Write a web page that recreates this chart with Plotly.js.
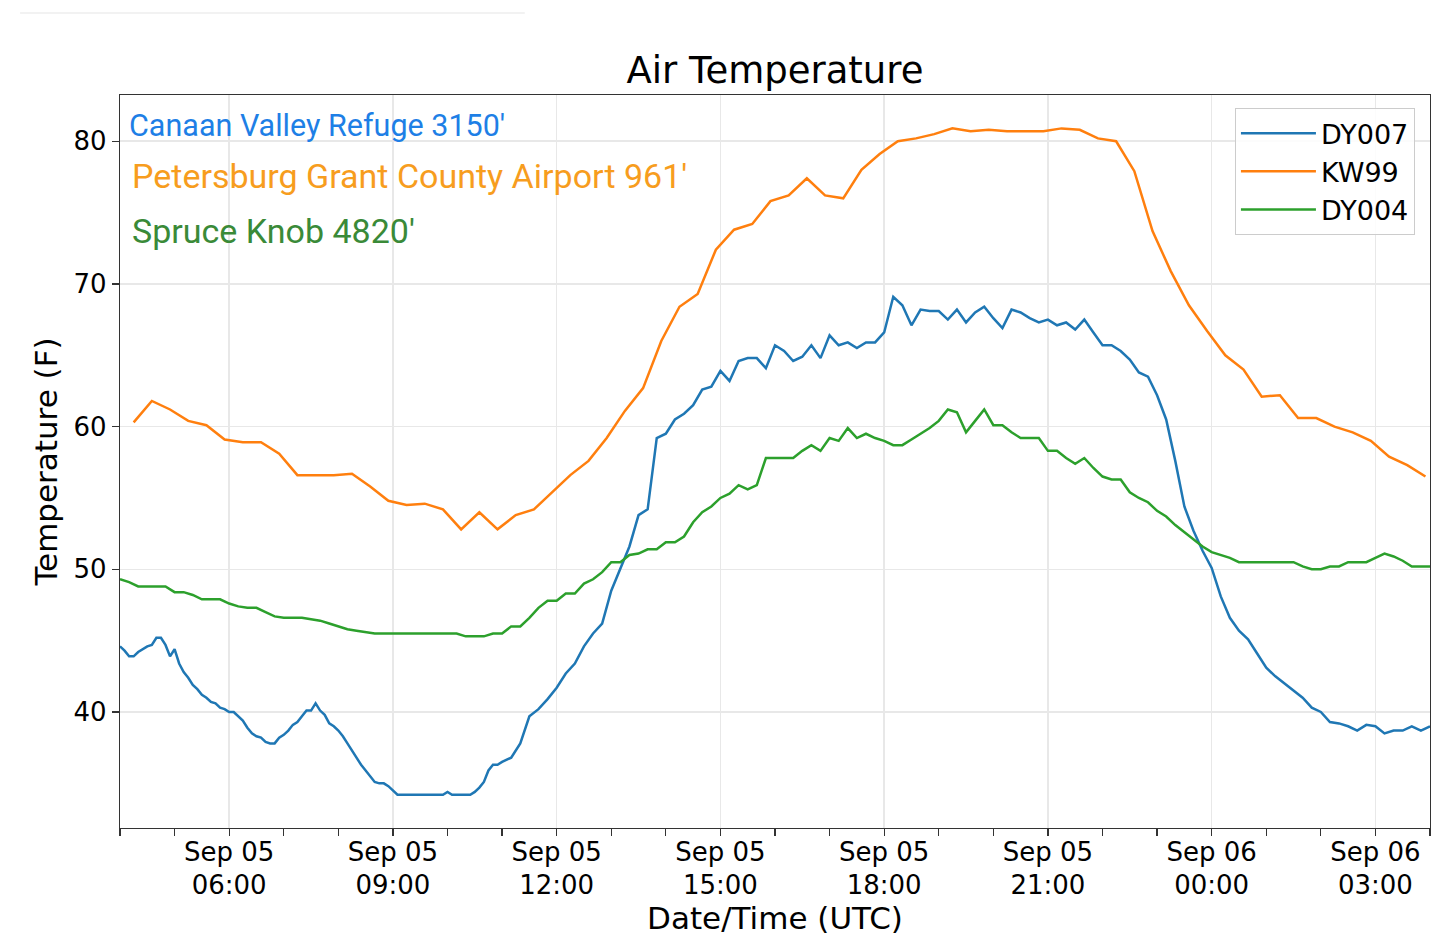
<!DOCTYPE html>
<html>
<head>
<meta charset="utf-8">
<script src="https://cdn.plot.ly/plotly-3.0.1.min.js"></script>
<style>
  html, body { margin: 0; padding: 0; background: #ffffff; }
  #chart { width: 1440px; height: 950px; }
</style>
</head>
<body>
<div id="chart"></div>
<script>
// ---------------- DATA ----------------
// DY007 - Canaan Valley Refuge: 5-minute readings 04:00-10:55, then 10-minute readings 11:00-04:00 (+1 day)
const dy007EarlyStart = '2019-09-05 04:00';
const dy007EarlyStepMin = 5;
const dy007Early = [
  44.6, 44.3, 43.9, 43.9, 44.2, 44.4, 44.6, 44.7, 45.2, 45.2, 44.7, 43.9,
  44.4, 43.4, 42.8, 42.4, 41.9, 41.6, 41.2, 41.0, 40.7, 40.6, 40.3, 40.2,
  40.0, 40.0, 39.7, 39.4, 38.9, 38.5, 38.3, 38.2, 37.9, 37.8, 37.8, 38.2,
  38.4, 38.7, 39.1, 39.3, 39.7, 40.1, 40.1, 40.6, 40.1, 39.8, 39.2, 39.0,
  38.7, 38.3, 37.8, 37.3, 36.8, 36.3, 35.9, 35.5, 35.1, 35.0, 35.0, 34.8,
  34.5, 34.2, 34.2, 34.2, 34.2, 34.2, 34.2, 34.2, 34.2, 34.2, 34.2, 34.2,
  34.4, 34.2, 34.2, 34.2, 34.2, 34.2, 34.4, 34.7, 35.1, 35.9, 36.3, 36.3
];
const dy007LateStart = '2019-09-05 11:00';
const dy007LateStepMin = 10;
const dy007Late = [
  36.5, 36.8, 37.8, 39.7, 40.2, 40.9,
  41.7, 42.7, 43.4, 44.6, 45.5, 46.2,
  48.5, 50.0, 51.6, 53.8, 54.2, 59.2,
  59.5, 60.5, 60.9, 61.5, 62.6, 62.8,
  63.9, 63.2, 64.6, 64.8, 64.8, 64.1,
  65.7, 65.3, 64.6, 64.9, 65.7, 64.8,
  66.4, 65.7, 65.9, 65.5, 65.9, 65.9,
  66.6, 69.1, 68.5, 67.1, 68.2, 68.1,
  68.1, 67.5, 68.2, 67.3, 68.0, 68.4,
  67.6, 66.9, 68.2, 68.0, 67.6, 67.3,
  67.5, 67.1, 67.3, 66.8, 67.5, 66.6,
  65.7, 65.7, 65.3, 64.7, 63.8, 63.5,
  62.2, 60.5, 57.6, 54.4, 52.7, 51.3,
  50.1, 48.1, 46.6, 45.7, 45.1, 44.1,
  43.1, 42.5, 42.0, 41.5, 41.0, 40.3,
  40.0, 39.3, 39.2, 39.0, 38.7, 39.1,
  39.0, 38.5, 38.7, 38.7, 39.0, 38.7,
  39.0
];

// KW99 - Petersburg Grant County Airport: 20-minute readings from 04:15
const kw99Start = '2019-09-05 04:15';
const kw99StepMin = 20;
const kw99 = [
  60.3, 61.8, 61.2, 60.4, 60.1, 59.1, 58.9, 58.9, 58.1,
  56.6, 56.6, 56.6, 56.7, 55.8, 54.8,
  54.5, 54.6, 54.2, 52.8, 54.0, 52.8,
  53.8, 54.2, 55.4, 56.6, 57.6, 59.2,
  61.1, 62.7, 66.0, 68.4, 69.3, 72.4,
  73.8, 74.2, 75.8, 76.2, 77.4, 76.2,
  76.0, 78.0, 79.1, 80.0, 80.2, 80.5,
  80.9, 80.7, 80.8, 80.7, 80.7, 80.7,
  80.9, 80.8, 80.2, 80.0, 77.9, 73.7,
  70.9, 68.5, 66.7, 65.0, 64.0, 62.1,
  62.2, 60.6, 60.6, 60.0, 59.6, 59.0,
  57.9, 57.3, 56.5
];

// DY004 - Spruce Knob: 10-minute readings from 04:00
const dy004Start = '2019-09-05 04:00';
const dy004StepMin = 10;
const dy004 = [
  49.3, 49.1, 48.8, 48.8, 48.8, 48.8,
  48.4, 48.4, 48.2, 47.9, 47.9, 47.9,
  47.6, 47.4, 47.3, 47.3, 47.0, 46.7,
  46.6, 46.6, 46.6, 46.5, 46.4, 46.2,
  46.0, 45.8, 45.7, 45.6, 45.5, 45.5,
  45.5, 45.5, 45.5, 45.5, 45.5, 45.5,
  45.5, 45.5, 45.3, 45.3, 45.3, 45.5,
  45.5, 46.0, 46.0, 46.6, 47.3, 47.8,
  47.8, 48.3, 48.3, 49.0, 49.3, 49.8,
  50.5, 50.5, 51.0, 51.1, 51.4, 51.4,
  51.9, 51.9, 52.3, 53.3, 54.0, 54.4,
  55.0, 55.3, 55.9, 55.6, 55.9, 57.8,
  57.8, 57.8, 57.8, 58.3, 58.7, 58.3,
  59.2, 59.0, 59.9, 59.2, 59.5, 59.2,
  59.0, 58.7, 58.7, 59.1, 59.5, 59.9,
  60.4, 61.2, 61.0, 59.6, 60.4, 61.2,
  60.1, 60.1, 59.6, 59.2, 59.2, 59.2,
  58.3, 58.3, 57.8, 57.4, 57.8, 57.1,
  56.5, 56.3, 56.3, 55.4, 55.0, 54.7,
  54.1, 53.7, 53.1, 52.6, 52.1, 51.6,
  51.2, 51.0, 50.8, 50.5, 50.5, 50.5,
  50.5, 50.5, 50.5, 50.5, 50.2, 50.0,
  50.0, 50.2, 50.2, 50.5, 50.5, 50.5,
  50.8, 51.1, 50.9, 50.6, 50.2, 50.2,
  50.2
];

const seriesNames = ['DY007', 'KW99', 'DY004'];
const seriesColors = ['#1f77b4', '#ff7f0e', '#2ca02c'];

const stationLabels = ["Canaan Valley Refuge 3150'", "Petersburg Grant County Airport 961'", "Spruce Knob 4820'"];
const stationColors = ['#1e7fe6', '#f79d1e', '#3a8a38'];

const xTickVals = ['2019-09-05 06:00', '2019-09-05 09:00', '2019-09-05 12:00', '2019-09-05 15:00',
                   '2019-09-05 18:00', '2019-09-05 21:00', '2019-09-06 00:00', '2019-09-06 03:00'];
const xTickText = ['Sep 05<br>06:00', 'Sep 05<br>09:00', 'Sep 05<br>12:00', 'Sep 05<br>15:00',
                   'Sep 05<br>18:00', 'Sep 05<br>21:00', 'Sep 06<br>00:00', 'Sep 06<br>03:00'];
const yTickVals = [40, 50, 60, 70, 80];
const xRange = ['2019-09-05 04:00', '2019-09-06 04:00'];
const yRange = [31.87, 83.24];

// ---------------- HELPERS ----------------
function pad(n) { return (n < 10 ? '0' : '') + n; }
function makeTimes(startStr, stepMin, n) {
  const p = startStr.split(/[- :]/).map(Number);
  const t0 = Date.UTC(p[0], p[1] - 1, p[2], p[3], p[4]);
  const out = [];
  for (let i = 0; i < n; i++) {
    const d = new Date(t0 + i * stepMin * 60000);
    out.push(d.getUTCFullYear() + '-' + pad(d.getUTCMonth() + 1) + '-' + pad(d.getUTCDate()) + ' ' +
             pad(d.getUTCHours()) + ':' + pad(d.getUTCMinutes()));
  }
  return out;
}

const dy007X = makeTimes(dy007EarlyStart, dy007EarlyStepMin, dy007Early.length)
  .concat(makeTimes(dy007LateStart, dy007LateStepMin, dy007Late.length));
const dy007Y = dy007Early.concat(dy007Late);
const kw99X = makeTimes(kw99Start, kw99StepMin, kw99.length);
const dy004X = makeTimes(dy004Start, dy004StepMin, dy004.length);

const FONT = 'DejaVu Sans, Liberation Sans, sans-serif';
const LABELFONT = 'Roboto, Noto Sans, sans-serif';

const traces = [
  { x: dy007X, y: dy007Y, name: seriesNames[0], type: 'scatter', mode: 'lines',
    line: { color: seriesColors[0], width: 2.5 } },
  { x: kw99X, y: kw99, name: seriesNames[1], type: 'scatter', mode: 'lines',
    line: { color: seriesColors[1], width: 2.5 } },
  { x: dy004X, y: dy004, name: seriesNames[2], type: 'scatter', mode: 'lines',
    line: { color: seriesColors[2], width: 2.5 } }
];

const layout = {
  width: 1440, height: 950,
  paper_bgcolor: '#ffffff', plot_bgcolor: '#ffffff',
  margin: { l: 120, r: 10, t: 95, b: 122, pad: 0 },
  font: { family: FONT, color: '#000000', size: 26 },
  title: { text: 'Air Temperature', font: { family: FONT, size: 37, color: '#000000' },
           x: 0.5, xref: 'paper', xanchor: 'center', y: 1 - 70 / 950, yref: 'container', yanchor: 'middle' },
  xaxis: {
    type: 'date', range: xRange, autorange: false,
    tickmode: 'array', tickvals: xTickVals, ticktext: xTickText,
    ticks: 'outside', ticklen: 7, tickwidth: 1.3, tickcolor: '#333333',
    ticklabelstandoff: -7,
    tickfont: { family: FONT, size: 26, color: '#000000' },
    showgrid: true, gridcolor: '#e8e8e8', gridwidth: 1.5,
    minor: { tickmode: 'linear', tick0: '2019-09-05 04:00', dtick: 3600000, ticks: 'outside',
             ticklen: 7, tickwidth: 1.3, tickcolor: '#333333', showgrid: false },
    showline: true, linecolor: '#333333', linewidth: 1.3, mirror: true, zeroline: false,
    title: { text: 'Date/Time (UTC)', font: { family: FONT, size: 31, color: '#000000' }, standoff: 4 }
  },
  yaxis: {
    range: yRange, autorange: false,
    tickmode: 'array', tickvals: yTickVals,
    ticks: 'outside', ticklen: 7, tickwidth: 1.3, tickcolor: '#333333',
    tickfont: { family: FONT, size: 26, color: '#000000' },
    showgrid: true, gridcolor: '#e8e8e8', gridwidth: 1.5,
    showline: true, linecolor: '#333333', linewidth: 1.3, mirror: true, zeroline: false,
    title: { text: 'Temperature (F)', font: { family: FONT, size: 31, color: '#000000' }, standoff: 6 }
  },
  legend: {
    x: 0.9885, xanchor: 'right', y: 0.982, yanchor: 'top',
    bgcolor: 'rgba(255,255,255,0.85)', bordercolor: '#cccccc', borderwidth: 1,
    font: { family: FONT, size: 27, color: '#000000' },
    itemwidth: 75
  },
  showlegend: true,
  annotations: [
    { text: stationLabels[0], xref: 'paper', yref: 'paper', x: 0.0053, y: 0.959,
      xanchor: 'left', yanchor: 'middle', showarrow: false,
      font: { family: LABELFONT, size: 30.5, color: stationColors[0] } },
    { text: stationLabels[1], xref: 'paper', yref: 'paper', x: 0.0076, y: 0.889,
      xanchor: 'left', yanchor: 'middle', showarrow: false,
      font: { family: LABELFONT, size: 34, color: stationColors[1] } },
    { text: stationLabels[2], xref: 'paper', yref: 'paper', x: 0.0076, y: 0.814,
      xanchor: 'left', yanchor: 'middle', showarrow: false,
      font: { family: LABELFONT, size: 34, color: stationColors[2] } }
  ],
  shapes: [
    { type: 'line', xref: 'paper', yref: 'paper', x0: -0.0763, x1: 0.309, y0: 1.1119, y1: 1.1119,
      line: { color: '#eeeeee', width: 1.5 } }
  ]
};

Plotly.newPlot('chart', traces, layout, { staticPlot: true, displayModeBar: false });
</script>
</body>
</html>
